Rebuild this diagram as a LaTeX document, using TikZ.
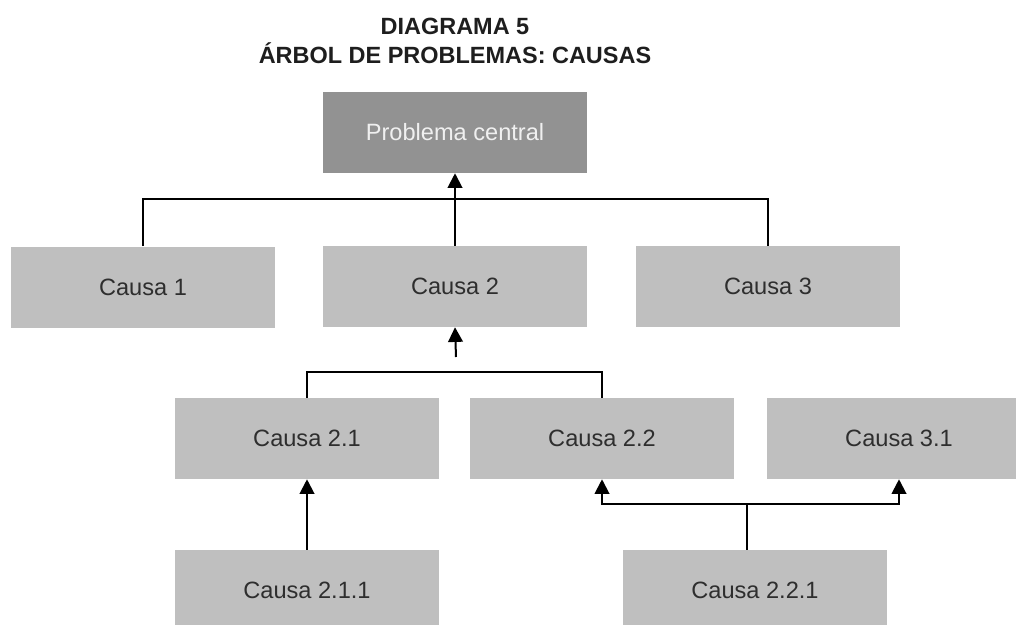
\documentclass[tikz,border=0pt]{standalone}
\usepackage{fontspec}
\setmainfont{Liberation Sans}
\usetikzlibrary{arrows.meta}
\definecolor{boxgray}{HTML}{BFBFBF}
\definecolor{topgray}{HTML}{929292}
\definecolor{txtgray}{HTML}{2E2E2E}
\definecolor{titlegray}{HTML}{1E1E1E}
\tikzset{
  causebox/.style={fill=boxgray, draw=none, minimum width=198pt, minimum height=60.75pt,
    inner sep=0pt, text=txtgray, font=\fontsize{17.7pt}{21pt}\selectfont},
  topbox/.style={causebox, fill=topgray, text=white!94!black},
  conn/.style={line width=1.5pt, draw=black},
  arr/.style={conn, -{Triangle[width=11pt,length=11pt]}},
  titletext/.style={align=center, text=titlegray, font=\bfseries\fontsize{17.6pt}{21.75pt}\selectfont}
}
\begin{document}
\begin{tikzpicture}[x=0.75pt,y=-0.75pt]
\useasboundingbox (0,0) rectangle (1016,624);
\clip (0,0) rectangle (1016,624);
\fill[white] (0,0) rectangle (1016,624);

\node[titletext] (title) at (455,41) {DIAGRAMA 5\\ÁRBOL DE PROBLEMAS: CAUSAS};

\node[topbox] (pc) at (455,132.5) {Problema central};

\node[causebox] (c1) at (143,287) {Causa 1};
\node[causebox] (c2) at (455,286.5) {Causa 2};
\node[causebox] (c3) at (768,286.5) {Causa 3};

\node[causebox] (c21) at (307,438.5) {Causa 2.1};
\node[causebox] (c22) at (602,438.5) {Causa 2.2};
\node[causebox] (c31) at (899,438.5) {Causa 3.1};

\node[causebox] (c211) at (307,590.5) {Causa 2.1.1};
\node[causebox] (c221) at (755,590.5) {Causa 2.2.1};

% level 1
\coordinate (j1) at (455,198.5);
\draw[conn] (c1.north) |- (j1) -| (c3.north);
\draw[arr] (c2.north) -- (pc.south);

% level 2
\coordinate (a2) at (456,357);
\draw[arr] (a2) -- (c2.south);
\coordinate (j2) at (455,372);
\draw[conn] (c21.north) |- (j2) -| (c22.north);

% level 3
\draw[arr] (c211.north) -- (c21.south);
\coordinate (j3) at (747,504);
\draw[conn] (c221.north -| j3) -- (j3);
\draw[arr] (j3) -| (c22.south);
\draw[arr] (j3) -| (c31.south);
\end{tikzpicture}
\end{document}
